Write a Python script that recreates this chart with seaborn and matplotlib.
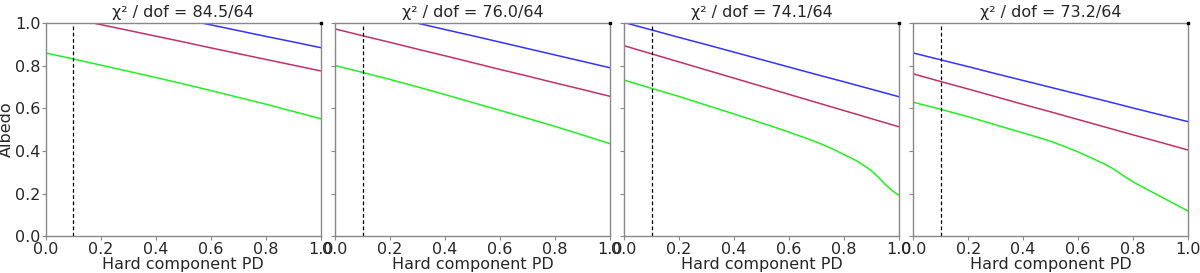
import numpy as np
import pandas as pd
import seaborn as sns
import matplotlib
matplotlib.use("Agg")
import matplotlib.pyplot as plt

titles = ["χ² / dof = 84.5/64", "χ² / dof = 76.0/64", "χ² / dof = 74.1/64", "χ² / dof = 73.2/64"]

x_lin = [0.0, 0.1, 0.2, 0.3, 0.4, 0.5, 0.6, 0.7, 0.8, 0.9, 1.0]
x_fine = [0.0, 0.1, 0.2, 0.3, 0.4, 0.45, 0.5, 0.55, 0.6, 0.65, 0.7, 0.725, 0.75, 0.775,
          0.8, 0.825, 0.85, 0.875, 0.9, 0.925, 0.95, 0.975, 1.0]

# panel 1
blue_1 = [1.150, 1.124, 1.097, 1.071, 1.044, 1.017, 0.991, 0.964, 0.937, 0.911, 0.884]
purple_1 = [1.046, 1.019, 0.992, 0.965, 0.938, 0.911, 0.883, 0.856, 0.829, 0.802, 0.775]
green_1 = [0.859, 0.831, 0.802, 0.773, 0.744, 0.714, 0.683, 0.651, 0.619, 0.585, 0.551]
# panel 2
blue_2 = [1.089, 1.059, 1.029, 0.999, 0.969, 0.940, 0.910, 0.880, 0.850, 0.820, 0.790]
purple_2 = [0.972, 0.940, 0.909, 0.877, 0.846, 0.814, 0.782, 0.751, 0.719, 0.688, 0.656]
green_2 = [0.800, 0.768, 0.735, 0.700, 0.664, 0.627, 0.590, 0.553, 0.515, 0.475, 0.434]
# panel 3
blue_3 = [1.002, 0.967, 0.932, 0.898, 0.863, 0.828, 0.793, 0.758, 0.724, 0.689, 0.654]
purple_3 = [0.893, 0.855, 0.817, 0.779, 0.741, 0.703, 0.665, 0.627, 0.589, 0.551, 0.513]
green_3 = [0.732, 0.693, 0.655, 0.614, 0.573, 0.552, 0.531, 0.510, 0.488, 0.465, 0.441,
           0.428, 0.414, 0.399, 0.383, 0.367, 0.350, 0.330, 0.307, 0.277, 0.243, 0.214, 0.192]
# panel 4
blue_4 = [0.859, 0.827, 0.795, 0.762, 0.730, 0.698, 0.666, 0.634, 0.601, 0.569, 0.537]
purple_4 = [0.761, 0.725, 0.690, 0.654, 0.618, 0.583, 0.547, 0.511, 0.475, 0.440, 0.404]
green_4 = [0.628, 0.595, 0.560, 0.522, 0.484, 0.465, 0.445, 0.421, 0.395, 0.366, 0.336,
           0.318, 0.297, 0.275, 0.255, 0.237, 0.220, 0.203, 0.186, 0.169, 0.152, 0.135, 0.118]

pd_cut = 0.1

panels = [
    (blue_1, purple_1, green_1, x_lin),
    (blue_2, purple_2, green_2, x_lin),
    (blue_3, purple_3, green_3, x_fine),
    (blue_4, purple_4, green_4, x_fine),
]

rows = []
for i, (b, p, g, xg) in enumerate(panels):
    for xv, yv in zip(x_lin, b):
        rows.append((i, "blue", xv, yv))
    for xv, yv in zip(x_lin, p):
        rows.append((i, "purple", xv, yv))
    for xv, yv in zip(xg, g):
        rows.append((i, "green", xv, yv))
df = pd.DataFrame(rows, columns=["panel", "curve", "PD", "albedo"])

palette = {"blue": "#3333ff", "purple": "#c0306a", "green": "#22ee22"}

sns.set_style("ticks")
plt.rcParams["font.family"] = ["DejaVu Sans"]

fig, axes = plt.subplots(1, 4, figsize=(12, 2.73), dpi=100, sharey=True)
fig.subplots_adjust(left=0.0383, right=0.99, bottom=0.135, top=0.916, wspace=0.0524)

fs = 11.5
for i, ax in enumerate(axes):
    sub = df[df["panel"] == i]
    sns.lineplot(data=sub, x="PD", y="albedo", hue="curve", palette=palette,
                 hue_order=["blue", "purple", "green"], ax=ax, legend=False, lw=1.1)
    ax.axvline(pd_cut, color="black", ls="--", lw=0.9, dashes=(3, 2))
    ax.scatter([1.0], [1.0], color="black", s=4, marker="s", clip_on=False, zorder=5)
    ax.set_xlim(0, 1)
    ax.set_ylim(0, 1)
    ax.set_xticks([0.0, 0.2, 0.4, 0.6, 0.8, 1.0])
    ax.set_yticks([0.0, 0.2, 0.4, 0.6, 0.8, 1.0])
    ax.set_title(titles[i], fontsize=fs, pad=4)
    ax.set_xlabel("Hard component PD", fontsize=fs, labelpad=0)
    ax.set_ylabel("Albedo" if i == 0 else "", fontsize=fs, labelpad=1)
    ax.tick_params(labelsize=fs, color="#888888", length=3, pad=1)
    for s in ax.spines.values():
        s.set_color("#888888")
        s.set_linewidth(1.0)

fig.savefig("out.png", dpi=100)
